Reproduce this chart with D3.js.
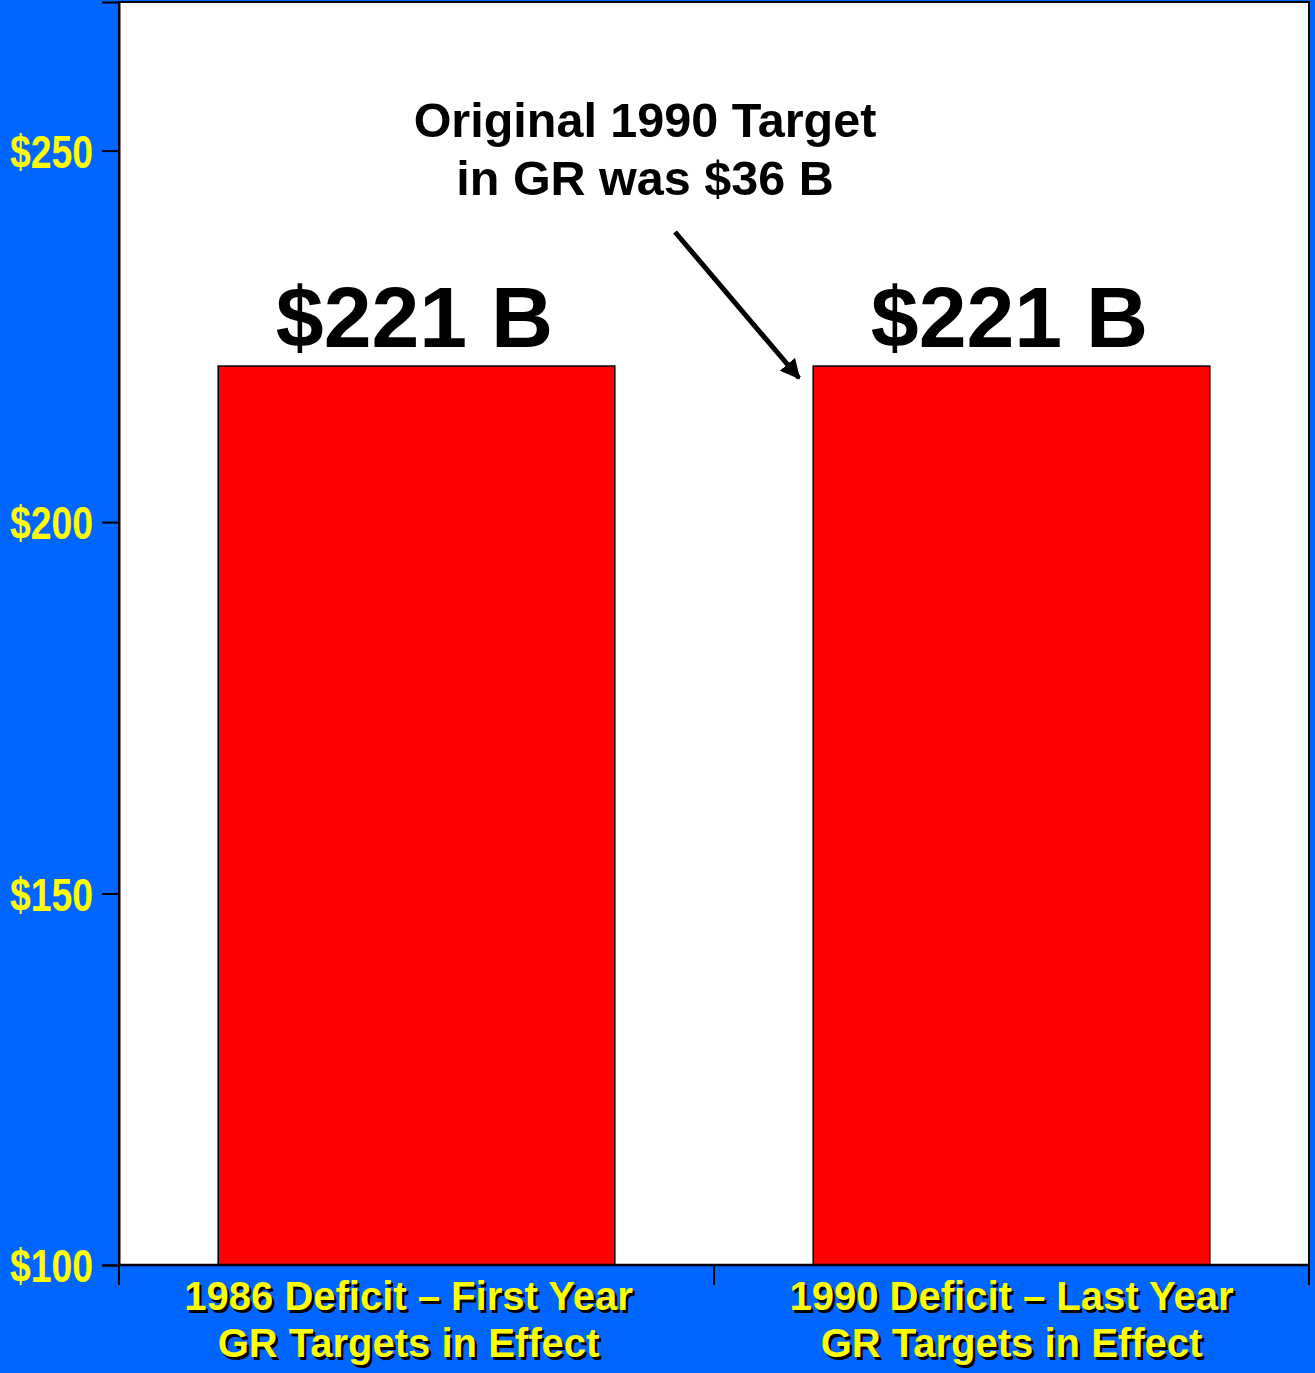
<!DOCTYPE html>
<html><head><meta charset="utf-8">
<script src="https://cdn.jsdelivr.net/npm/d3@7"></script>
<style>html,body{margin:0;padding:0;background:#0066ff;}svg{display:block;}</style>
</head><body>
<script>
const categories = ["1986 Deficit \u2013 First Year|GR Targets in Effect", "1990 Deficit \u2013 Last Year|GR Targets in Effect"];
const values = [221, 221];
const valueLabels = ["$221 B", "$221 B"];
const yTicks = [100, 150, 200, 250];
const annotation = ["Original 1990 Target", "in GR was $36 B"];

const W = 1315, H = 1373;
const m = {left: 119, right: 6, top: 2, bottom: 108};
const svg = d3.select("body").append("svg").attr("width", W).attr("height", H);
svg.append("rect").attr("width", W).attr("height", H).attr("fill", "#0066ff");

const x = d3.scaleBand().domain(categories).range([m.left, W - m.right]).paddingInner(1/3).paddingOuter(1/6);
const y = d3.scaleLinear().domain([100, 270]).range([H - m.bottom, m.top]);

svg.append("rect").attr("x", m.left).attr("y", m.top).attr("width", W - m.right - m.left).attr("height", H - m.bottom - m.top)
  .attr("fill", "#fff").attr("stroke", "#000").attr("stroke-width", 2);

svg.selectAll("rect.bar").data(values).join("rect").attr("class", "bar")
  .attr("x", (d, i) => x(categories[i])).attr("width", x.bandwidth())
  .attr("y", d => y(d)).attr("height", d => y(100) - y(d))
  .attr("fill", "#ff0000").attr("stroke", "#000").attr("stroke-width", 1.5);

svg.selectAll("text.val").data(values).join("text").attr("class", "val")
  .attr("x", (d, i) => x(categories[i]) + x.bandwidth() / 2 - 2).attr("y", d => y(d) - 19)
  .attr("text-anchor", "middle").attr("font-family", "Liberation Sans, Arial, sans-serif")
  .attr("font-weight", "bold").attr("font-size", 86).attr("fill", "#000")
  .text((d, i) => valueLabels[i]);

// y axis
const yAxis = svg.append("g").attr("transform", `translate(${m.left},0)`)
  .call(d3.axisLeft(y).tickValues(yTicks).tickSize(17).tickFormat(d => "$" + d));
yAxis.select(".domain").attr("stroke", "#000").attr("stroke-width", 2);
yAxis.selectAll(".tick line").attr("stroke", "#000").attr("stroke-width", 2);
yAxis.selectAll(".tick text").attr("fill", "#ffff00").attr("font-family", "Liberation Sans, Arial, sans-serif")
  .attr("font-weight", "bold").attr("font-size", 46).attr("x", -26).attr("dy", "0.36em")
  .attr("textLength", 83).attr("lengthAdjust", "spacingAndGlyphs");

// x axis ticks at band boundaries
const bounds = [m.left, (m.left + W - m.right) / 2, W - m.right];
svg.append("g").selectAll("line").data(bounds).join("line")
  .attr("x1", d => d).attr("x2", d => d).attr("y1", y(100)).attr("y2", y(100) + 20)
  .attr("stroke", "#000").attr("stroke-width", 2);
svg.append("line").attr("x1", m.left).attr("x2", W - m.right).attr("y1", y(100)).attr("y2", y(100)).attr("stroke", "#000").attr("stroke-width", 2.5);

// category labels with shadow
const catG = svg.append("g");
const catShift = [-8, 0];
categories.forEach((c, i) => {
  const cx = x(c) + x.bandwidth() / 2 + catShift[i];
  const lines = c.split("|");
  [[2.5, "#000"], [0, "#ffff00"]].forEach(([off, col]) => {
    lines.forEach((l, j) => {
      catG.append("text").attr("x", cx + off).attr("y", 1310 + j * 47 + off)
        .attr("text-anchor", "middle").attr("font-family", "Liberation Sans, Arial, sans-serif")
        .attr("font-weight", "bold").attr("font-size", 40).attr("fill", col).text(l);
    });
  });
});

// annotation
annotation.forEach((l, j) => {
  svg.append("text").attr("x", 645).attr("y", 137 + j * 58).attr("text-anchor", "middle")
    .attr("font-family", "Liberation Sans, Arial, sans-serif").attr("font-weight", "bold")
    .attr("font-size", 48.5).attr("fill", "#000").text(l);
});
svg.append("defs").append("marker").attr("id", "ah").attr("viewBox", "0 0 10 10").attr("refX", 9).attr("refY", 5)
  .attr("markerWidth", 4).attr("markerHeight", 4).attr("orient", "auto").attr("markerUnits", "strokeWidth")
  .append("path").attr("d", "M0,0 L10,5 L0,10 Z").attr("fill", "#000");
svg.append("line").attr("x1", 675).attr("y1", 232).attr("x2", 799).attr("y2", 378)
  .attr("stroke", "#000").attr("stroke-width", 5).attr("marker-end", "url(#ah)");
</script>
</body></html>
